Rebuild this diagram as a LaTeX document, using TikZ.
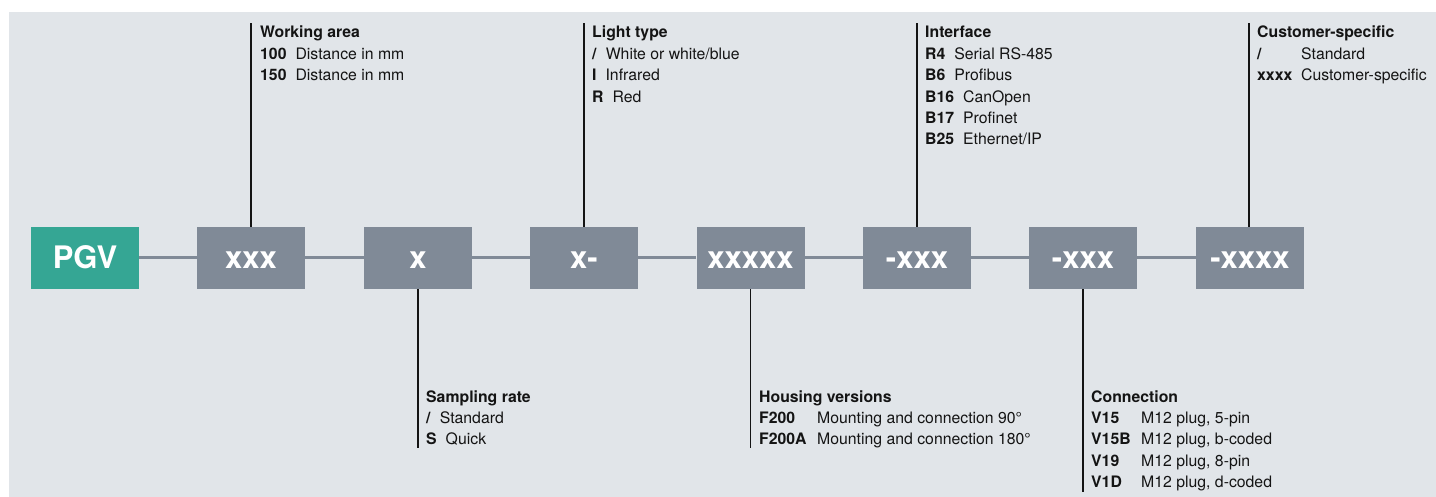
\documentclass[tikz,border=0pt]{standalone}
\usepackage{fontspec}
\setmainfont{TeX Gyre Heros}
\definecolor{bgc}{RGB}{225,229,233}
\definecolor{boxgray}{RGB}{128,138,151}
\definecolor{tealc}{RGB}{53,166,148}
\definecolor{inkc}{RGB}{20,20,20}
\newcommand\cdA[1]{\textbf{#1}\hspace{9pt}}
\newcommand\cdB[2]{\makebox[#1][l]{\textbf{#2}}}
\newenvironment{infolist}{\begin{tabular}[t]{@{}l@{}}}{\end{tabular}}
\begin{document}
\begin{tikzpicture}[x=1pt,y=-1pt,
  codebox/.style={rectangle, fill=boxgray, minimum width=108pt, minimum height=62pt,
    inner sep=0pt, text=white, text height=22pt, text depth=0pt,
    font=\fontsize{31}{31}\selectfont\bfseries},
  link/.style={draw=boxgray, line width=3pt},
  leader/.style={draw=inkc, line width=1.3pt},
  info/.style={anchor=base west, inner sep=0pt, text=inkc,
    font=\fontsize{15.8}{21.4}\selectfont}]
\useasboundingbox (0,0) rectangle (1436,497);
\fill[white] (0,0) rectangle (1436,497);
\fill[bgc] (9,12) rectangle (1436,497);

% boxes
\node[codebox, fill=tealc] (pgv) at (85,258) {PGV};
\node[codebox] (b1) at (251,258) {xxx};
\node[codebox] (b2) at (418,258) {x};
\node[codebox] (b3) at (584,258) {x-};
\node[codebox] (b4) at (750.5,258) {xxxxx};
\node[codebox] (b5) at (917,258) {-xxx};
\node[codebox] (b6) at (1083,258) {-xxx};
\node[codebox] (b7) at (1250,258) {-xxxx};

% links
\draw[link] (pgv) -- (b1);
\draw[link] (b1) -- (b2);
\draw[link] (b2) -- (b3);
\draw[link] (b3) -- (b4);
\draw[link] (b4) -- (b5);
\draw[link] (b5) -- (b6);
\draw[link] (b6) -- (b7);

% leader ends
\coordinate (t1) at (251,23);
\coordinate (t3) at (584,23);
\coordinate (t5) at (917,23);
\coordinate (t7) at (1249,23);
\coordinate (e2) at (418,448);
\coordinate (e4) at (750.5,448);
\coordinate (e6) at (1083,492);

\draw[leader] (b1.north) -- (t1);
\draw[leader] (b3.north) -- (t3);
\draw[leader] (b5.north) -- (t5);
\draw[leader] (b7.north -| t7) -- (t7);
\draw[leader] (b2.south) -- (e2);
\draw[leader] (b4.south) -- (e4);
\draw[leader] (b6.south) -- (e6);

% texts
\node[info] (l1) at (260,38) {\begin{infolist}\textbf{Working area}\\
  \cdA{100}Distance in mm\\
  \cdA{150}Distance in mm\end{infolist}};
\node[info] (l3) at (592,38) {\begin{infolist}\textbf{Light type}\\
  \cdA{/}White or white/blue\\
  \cdA{I}Infrared\\
  \cdA{R}Red\end{infolist}};
\node[info] (l5) at (925,38) {\begin{infolist}\textbf{Interface}\\
  \cdA{R4}Serial RS-485\\
  \cdA{B6}Profibus\\
  \cdA{B16}CanOpen\\
  \cdA{B17}Profinet\\
  \cdA{B25}Ethernet/IP\end{infolist}};
\node[info] (l7) at (1257,38) {\begin{infolist}\textbf{Customer-specific}\\
  \cdB{44pt}{/}Standard\\
  \cdB{44pt}{xxxx}Customer-specific\end{infolist}};
\node[info] (l2) at (426,402) {\begin{infolist}\textbf{Sampling rate}\\
  \cdA{/}Standard\\
  \cdA{S}Quick\end{infolist}};
\node[info] (l4) at (759,402) {\begin{infolist}\textbf{Housing versions}\\
  \cdB{58pt}{F200}Mounting and connection 90°\\
  \cdB{58pt}{F200A}Mounting and connection 180°\end{infolist}};
\node[info] (l6) at (1091,402) {\begin{infolist}\textbf{Connection}\\
  \cdB{50pt}{V15}M12 plug, 5-pin\\
  \cdB{50pt}{V15B}M12 plug, b-coded\\
  \cdB{50pt}{V19}M12 plug, 8-pin\\
  \cdB{50pt}{V1D}M12 plug, d-coded\end{infolist}};
\end{tikzpicture}
\end{document}
